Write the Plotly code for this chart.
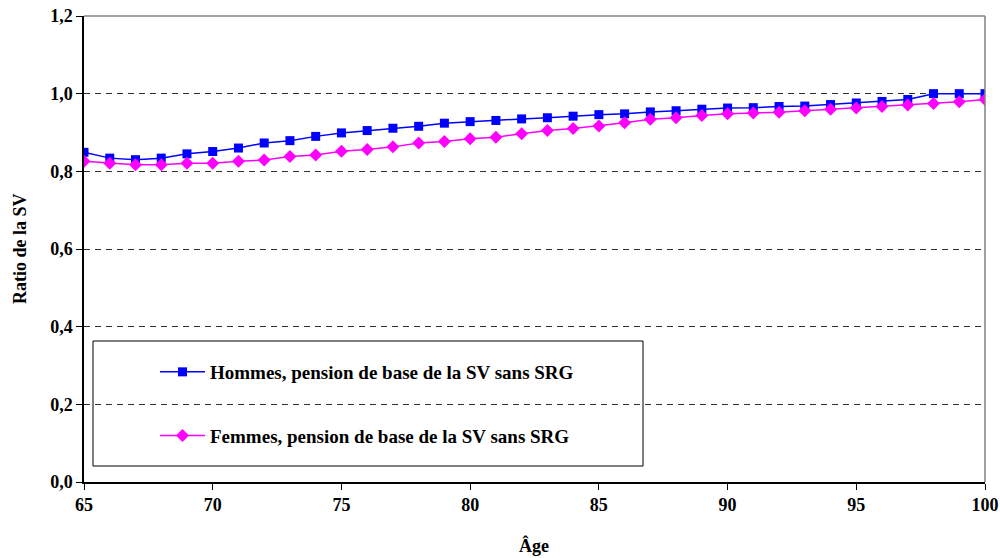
import plotly.graph_objects as go

ages = list(range(65, 101))
hommes = [0.849, 0.834, 0.830, 0.834, 0.845, 0.851, 0.860, 0.873, 0.879, 0.890,
          0.899, 0.905, 0.911, 0.916, 0.924, 0.928, 0.931, 0.935, 0.938, 0.942,
          0.946, 0.948, 0.953, 0.956, 0.960, 0.963, 0.964, 0.967, 0.968, 0.972,
          0.976, 0.980, 0.985, 1.000, 1.000, 1.000]
femmes = [0.826, 0.821, 0.817, 0.817, 0.821, 0.821, 0.826, 0.829, 0.838, 0.842,
          0.852, 0.856, 0.863, 0.873, 0.877, 0.884, 0.888, 0.897, 0.905, 0.910,
          0.917, 0.925, 0.934, 0.938, 0.944, 0.948, 0.950, 0.952, 0.956, 0.960,
          0.963, 0.967, 0.971, 0.975, 0.979, 0.985]
x_ticks = [65, 70, 75, 80, 85, 90, 95, 100]
y_ticks = [0.0, 0.2, 0.4, 0.6, 0.8, 1.0, 1.2]

FONT = "Liberation Serif"
L, R, T, B = 84, 15, 16, 76
PW, PH = 1000 - L - R, 558 - T - B


def px_x(p):
    return (p - L) / PW


def px_y(p):
    return (558 - B - p) / PH


fig = go.Figure()
fig.add_trace(go.Scatter(
    x=ages, y=hommes, mode="lines+markers",
    name="Hommes, pension de base de la SV sans SRG",
    legendgroup="a",
    line=dict(color="#0000FF", width=1.5),
    marker=dict(symbol="square", size=9, color="#0000FF"),
))
fig.add_trace(go.Scatter(
    x=ages, y=femmes, mode="lines+markers",
    name="Femmes, pension de base de la SV sans SRG",
    legendgroup="b",
    line=dict(color="#FF00FF", width=1.5),
    marker=dict(symbol="diamond", size=10, color="#FF00FF"),
))

# legend box (white, covers gridlines)
fig.add_shape(type="rect", xref="paper", yref="paper",
              x0=px_x(93), x1=px_x(643), y0=px_y(466), y1=px_y(341),
              line=dict(color="#000000", width=1), fillcolor="white", layer="between")
# gray top and right borders
fig.add_shape(type="line", xref="paper", yref="paper", x0=0, x1=1, y0=1, y1=1,
              line=dict(color="#808080", width=1.5), layer="above")
fig.add_shape(type="line", xref="paper", yref="paper", x0=1, x1=1, y0=0, y1=1,
              line=dict(color="#808080", width=1.5), layer="above")

bold = dict(family=FONT, size=18, color="black", weight="bold")
fig.add_annotation(text="Ratio de la SV", xref="paper", yref="paper",
                   x=px_x(20), y=px_y(249), textangle=-90, showarrow=False,
                   xanchor="center", yanchor="middle", font=bold)
fig.add_annotation(text="Âge", xref="paper", yref="paper",
                   x=px_x(534), y=px_y(545), showarrow=False,
                   xanchor="center", yanchor="middle", font=bold)

fig.update_layout(
    width=1000, height=558,
    margin=dict(l=L, r=R, t=T, b=B),
    paper_bgcolor="white", plot_bgcolor="white",
    separators=", ",
    font=dict(family=FONT, size=18, color="black"),
    showlegend=True,
    legend=dict(
        x=px_x(155), y=px_y(353), xanchor="left", yanchor="top",
        bgcolor="rgba(0,0,0,0)", borderwidth=0,
        font=dict(family=FONT, size=19, color="black", weight="bold"),
        itemwidth=45, traceorder="grouped", tracegroupgap=36,
    ),
    xaxis=dict(
        range=[65, 100], tickvals=x_ticks, ticks="outside", ticklen=6,
        tickcolor="black", showline=True, linecolor="black", linewidth=1.5,
        showgrid=False, zeroline=False, automargin=False,
        tickfont=bold,
    ),
    yaxis=dict(
        range=[0, 1.2], tickvals=y_ticks, tickformat=".1f", ticks="outside", ticklen=6,
        tickcolor="black", showline=True, linecolor="black", linewidth=1.5,
        showgrid=True, gridcolor="#303030", gridwidth=1, griddash="6px,5px",
        zeroline=False, automargin=False,
        tickfont=bold,
    ),
)

fig.write_html("out.html", config={"displayModeBar": False},
               post_script="document.body.style.margin='0';document.body.style.overflow='hidden';")
